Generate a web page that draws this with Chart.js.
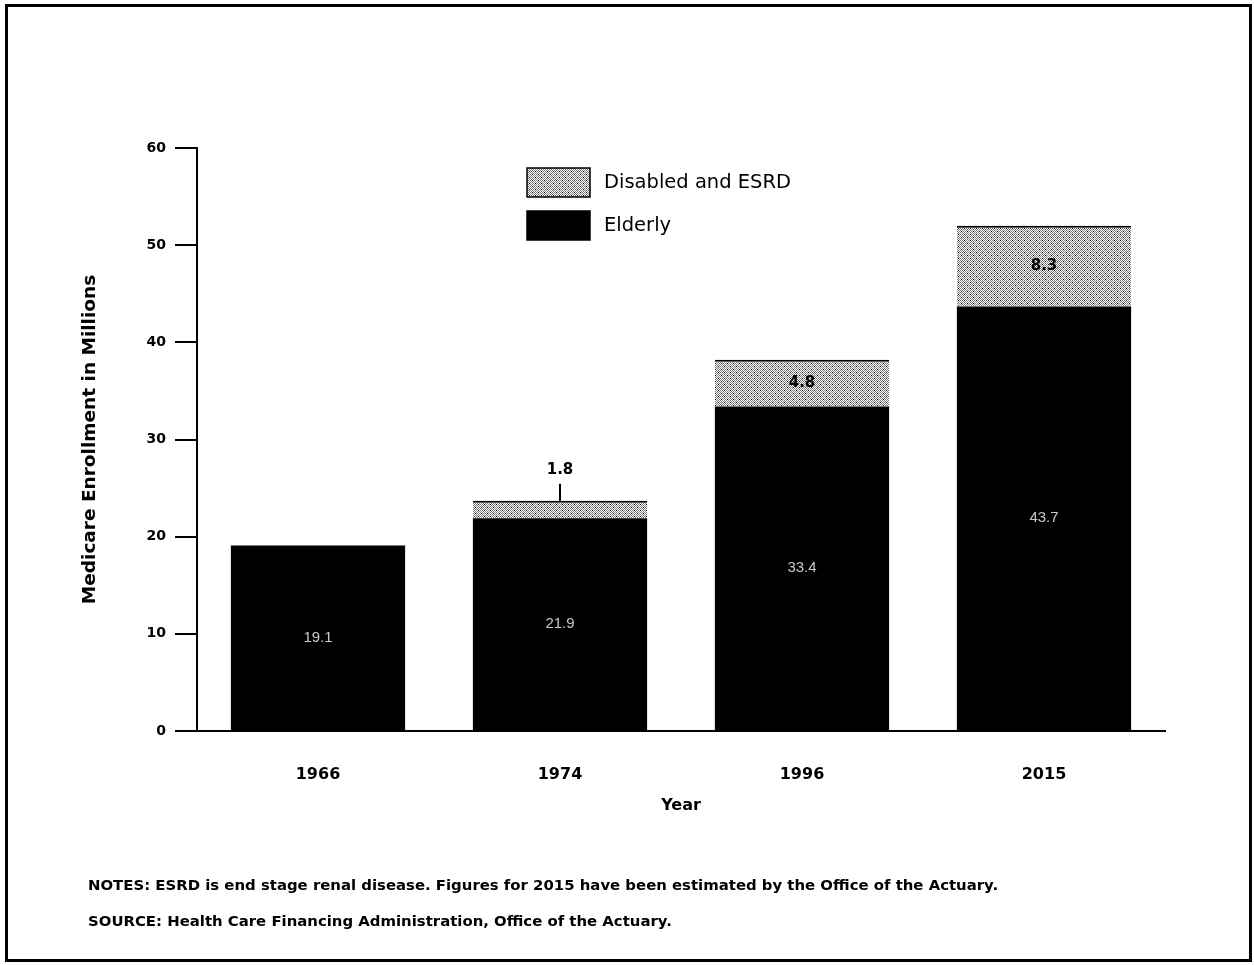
<!DOCTYPE html>
<html>
<head>
<meta charset="utf-8">
<script src="https://cdn.jsdelivr.net/npm/chart.js@4/dist/chart.umd.min.js"></script>
<style>
    body { margin: 0; background: #fff; }
    #wrap { position: relative; width: 1254px; height: 965px; }
    #frame { position: absolute; left: 5px; top: 4px; width: 1241px; height: 952px; border: 3px solid #000; pointer-events: none; }
    canvas { position: absolute; left: 0; top: 0; }
    .note { position: absolute; left: 88px; font: bold 14.9px "DejaVu Sans", sans-serif; color: #000; white-space: nowrap; }
</style>
</head>
<body>
<div id="wrap">
    <canvas id="chart" width="1254" height="965"></canvas>
    <div id="frame"></div>
    <div class="note" style="top:876px">NOTES: ESRD is end stage renal disease. Figures for 2015 have been estimated by the Office of the Actuary.</div>
    <div class="note" style="top:912px">SOURCE: Health Care Financing Administration, Office of the Actuary.</div>
</div>
<script>
// Datos
const years = ["1966", "1974", "1996", "2015"];
const elderly = [19.1, 21.9, 33.4, 43.7];
const disabled = [0, 1.8, 4.8, 8.3];
const yTicks = [0, 10, 20, 30, 40, 50, 60];

const FONT = "'Liberation Sans', Arial, sans-serif";
const WIDE = "'DejaVu Sans', sans-serif";

// Patron punteado para "Disabled and ESRD"
function makeStipple() {
    const c = document.createElement("canvas");
    c.width = 6;
    c.height = 6;
    const g = c.getContext("2d");
    g.fillStyle = "#ffffff";
    g.fillRect(0, 0, 6, 6);
    for (let y = 0; y < 6; y++) {
        for (let x = 0; x < 6; x++) {
            if ((x + y) % 2 === 0) {
                g.fillStyle = "#7a7a7a";
                g.fillRect(x, y, 1, 1);
            }
        }
    }
    g.fillStyle = "#000";
    g.fillRect(1, 3, 1, 1);
    g.fillRect(4, 0, 1, 1);
    return g.createPattern(c, "repeat");
}

const ctx = document.getElementById("chart").getContext("2d");
const stipple = makeStipple();

// Etiquetas de valores
const valueLabels = {
    id: "valueLabels",
    afterDatasetsDraw(chart) {
        const c = chart.ctx;
        c.save();
        c.textAlign = "center";
        c.textBaseline = "middle";
        // Elderly: texto claro dentro de la barra
        chart.getDatasetMeta(0).data.forEach((bar, i) => {
            const mid = (bar.y + bar.base) / 2;
            c.font = "15px " + FONT;
            c.fillStyle = "#c8c8c8";
            c.fillText(elderly[i].toFixed(1), bar.x, mid);
        });
        // Disabled: negro, encima si el segmento es pequeño
        chart.getDatasetMeta(1).data.forEach((bar, i) => {
            if (!disabled[i]) return;
            const h = bar.base - bar.y;
            c.fillStyle = "#000";
            c.font = "bold 15px " + WIDE;
            if (h < 25) {
                c.fillText(disabled[i].toFixed(1), bar.x, bar.y - 31);
                c.strokeStyle = "#000";
                c.lineWidth = 2;
                c.beginPath();
                c.moveTo(bar.x, bar.y - 17);
                c.lineTo(bar.x, bar.y);
                c.stroke();
            } else {
                c.fillText(disabled[i].toFixed(1), bar.x, (bar.y + bar.base) / 2);
            }
        });
        c.restore();
    }
};

// Leyenda dibujada dentro del area
const insideLegend = {
    id: "insideLegend",
    afterDraw(chart) {
        const c = chart.ctx;
        const x0 = 527, y0 = 168, w = 63, h = 29, gap = 43;
        const items = chart.data.datasets.slice().reverse();
        c.save();
        items.forEach((ds, i) => {
            const y = y0 + i * gap;
            c.fillStyle = ds.backgroundColor;
            c.fillRect(x0, y, w, h);
            c.strokeStyle = "#000";
            c.lineWidth = 1.5;
            c.strokeRect(x0, y, w, h);
            c.fillStyle = "#000";
            c.font = "19.5px " + WIDE;
            c.textAlign = "left";
            c.textBaseline = "middle";
            c.fillText(ds.label, x0 + w + 14, y + h / 2);
        });
        c.restore();
    }
};

new Chart(ctx, {
    type: "bar",
    data: {
        labels: years,
        datasets: [
            {
                label: "Elderly",
                data: elderly,
                backgroundColor: "#000",
                borderWidth: 0,
                barPercentage: 0.72,
                categoryPercentage: 1,
            },
            {
                label: "Disabled and ESRD",
                data: disabled,
                backgroundColor: stipple,
                borderColor: "#000",
                borderWidth: { top: 2, left: 0, right: 0, bottom: 0 },
                barPercentage: 0.72,
                categoryPercentage: 1,
            },
        ],
    },
    options: {
        responsive: false,
        animation: false,
        layout: {
            padding: { left: 79, right: 89, top: 148, bottom: 139 },
        },
        plugins: {
            legend: { display: false },
            tooltip: { enabled: false },
        },
        scales: {
            x: {
                stacked: true,
                afterFit: (s) => { s.height = 95; },
                grid: { display: true, drawOnChartArea: false, drawTicks: false },
                border: { display: true, color: "#000", width: 2 },
                ticks: {
                    color: "#000",
                    padding: 34,
                    font: { family: WIDE, size: 16, weight: "bold" },
                },
                title: {
                    display: true,
                    text: "Year",
                    color: "#000",
                    padding: { top: 0, bottom: 11 },
                    font: { family: WIDE, size: 16, weight: "bold" },
                },
            },
            y: {
                stacked: true,
                min: 0,
                max: 60,
                afterFit: (s) => { s.width = 118; },
                afterBuildTicks: (s) => { s.ticks = yTicks.map(v => ({ value: v })); },
                grid: {
                    drawOnChartArea: false,
                    drawTicks: true,
                    tickLength: 22,
                    color: "#000",
                    lineWidth: 2,
                },
                border: { display: true, color: "#000", width: 2 },
                ticks: {
                    color: "#000",
                    padding: 9,
                    font: { family: WIDE, size: 14, weight: "bold" },
                },
                title: {
                    display: true,
                    text: "Medicare Enrollment in Millions",
                    color: "#000",
                    padding: 0,
                    font: { family: WIDE, size: 18.5, weight: "bold" },
                },
            },
        },
    },
    plugins: [valueLabels, insideLegend],
});
</script>
</body>
</html>
